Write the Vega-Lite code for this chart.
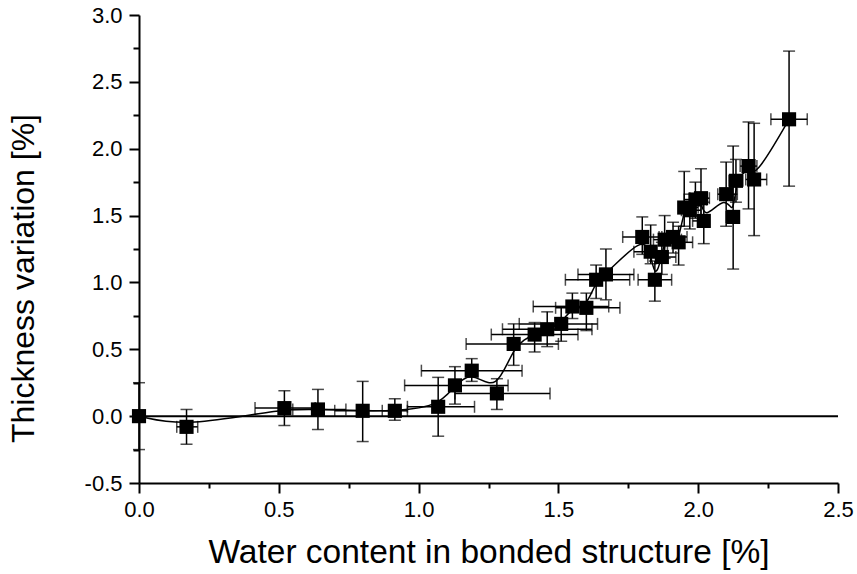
{
  "$schema": "https://vega.github.io/schema/vega-lite/v6.json",
  "width": 699,
  "height": 468,
  "autosize": {"type": "none"},
  "padding": {"left": 139, "top": 15, "right": 19, "bottom": 91},
  "background": "white",
  "config": {
    "view": {"stroke": null},
    "axis": {"grid": false, "domainColor": "black", "domainWidth": 2, "tickColor": "black", "tickWidth": 2, "labelColor": "black", "titleColor": "black", "labelFlush": false, "labelOverlap": false}
  },
  "data": {"values": [
    {"x": 0, "y": 0, "ylo": -0.25, "yhi": 0.25, "xlo": null, "xhi": null},
    {"x": 0.17, "y": -0.08, "ylo": -0.21, "yhi": 0.05, "xlo": 0.135, "xhi": 0.21},
    {"x": 0.52, "y": 0.06, "ylo": -0.07, "yhi": 0.19, "xlo": 0.415, "xhi": 0.63},
    {"x": 0.64, "y": 0.05, "ylo": -0.10, "yhi": 0.20, "xlo": 0.55, "xhi": 0.74},
    {"x": 0.80, "y": 0.04, "ylo": -0.19, "yhi": 0.26, "xlo": 0.70, "xhi": 0.90},
    {"x": 0.915, "y": 0.04, "ylo": -0.03, "yhi": 0.13, "xlo": 0.87, "xhi": 0.96},
    {"x": 1.07, "y": 0.07, "ylo": -0.15, "yhi": 0.29, "xlo": 0.96, "xhi": 1.20},
    {"x": 1.13, "y": 0.23, "ylo": 0.09, "yhi": 0.37, "xlo": 0.95, "xhi": 1.32},
    {"x": 1.19, "y": 0.34, "ylo": 0.26, "yhi": 0.43, "xlo": 1.01, "xhi": 1.37},
    {"x": 1.28, "y": 0.17, "ylo": 0.05, "yhi": 0.28, "xlo": 1.13, "xhi": 1.47},
    {"x": 1.34, "y": 0.54, "ylo": 0.38, "yhi": 0.69, "xlo": 1.17, "xhi": 1.50},
    {"x": 1.415, "y": 0.61, "ylo": 0.48, "yhi": 0.70, "xlo": 1.26, "xhi": 1.57},
    {"x": 1.46, "y": 0.65, "ylo": 0.52, "yhi": 0.78, "xlo": 1.30, "xhi": 1.62},
    {"x": 1.51, "y": 0.69, "ylo": 0.56, "yhi": 0.82, "xlo": 1.36, "xhi": 1.64},
    {"x": 1.55, "y": 0.82, "ylo": 0.73, "yhi": 0.92, "xlo": 1.41, "xhi": 1.68},
    {"x": 1.60, "y": 0.81, "ylo": 0.64, "yhi": 0.92, "xlo": 1.49, "xhi": 1.72},
    {"x": 1.635, "y": 1.02, "ylo": 0.88, "yhi": 1.13, "xlo": 1.525, "xhi": 1.755},
    {"x": 1.67, "y": 1.06, "ylo": 0.87, "yhi": 1.25, "xlo": 1.57, "xhi": 1.77},
    {"x": 1.80, "y": 1.34, "ylo": 1.21, "yhi": 1.49, "xlo": 1.73, "xhi": 1.87},
    {"x": 1.83, "y": 1.23, "ylo": 1.14, "yhi": 1.43, "xlo": 1.77, "xhi": 1.89},
    {"x": 1.845, "y": 1.02, "ylo": 0.86, "yhi": 1.16, "xlo": 1.785, "xhi": 1.905},
    {"x": 1.87, "y": 1.19, "ylo": 1.06, "yhi": 1.30, "xlo": 1.82, "xhi": 1.92},
    {"x": 1.88, "y": 1.32, "ylo": 1.18, "yhi": 1.50, "xlo": 1.84, "xhi": 1.94},
    {"x": 1.91, "y": 1.34, "ylo": 1.22, "yhi": 1.45, "xlo": 1.86, "xhi": 1.96},
    {"x": 1.93, "y": 1.30, "ylo": 1.13, "yhi": 1.42, "xlo": 1.88, "xhi": 1.98},
    {"x": 1.95, "y": 1.56, "ylo": 1.42, "yhi": 1.83, "xlo": 1.93, "xhi": 2.00},
    {"x": 1.97, "y": 1.54, "ylo": 1.40, "yhi": 1.66, "xlo": 1.94, "xhi": 2.01},
    {"x": 1.99, "y": 1.62, "ylo": 1.48, "yhi": 1.75, "xlo": 1.95, "xhi": 2.03},
    {"x": 2.01, "y": 1.63, "ylo": 1.50, "yhi": 1.85, "xlo": 1.97, "xhi": 2.04},
    {"x": 2.02, "y": 1.46, "ylo": 1.29, "yhi": 1.60, "xlo": 1.98, "xhi": 2.04},
    {"x": 2.10, "y": 1.66, "ylo": 1.42, "yhi": 1.90, "xlo": 2.07, "xhi": 2.14},
    {"x": 2.125, "y": 1.49, "ylo": 1.10, "yhi": 2.02, "xlo": 2.10, "xhi": 2.145},
    {"x": 2.135, "y": 1.76, "ylo": 1.60, "yhi": 1.92, "xlo": 2.11, "xhi": 2.16},
    {"x": 2.18, "y": 1.87, "ylo": 1.55, "yhi": 2.20, "xlo": 2.15, "xhi": 2.21},
    {"x": 2.20, "y": 1.77, "ylo": 1.35, "yhi": 2.19, "xlo": 2.17, "xhi": 2.245},
    {"x": 2.325, "y": 2.22, "ylo": 1.72, "yhi": 2.73, "xlo": 2.26, "xhi": 2.39}
  ]},
  "resolve": {"axis": {"x": "independent", "y": "independent"}},
  "layer": [
    {
      "data": {"values": [{"z": 0}]},
      "mark": {"type": "rule", "color": "black", "strokeWidth": 2},
      "encoding": {
        "y": {"field": "z", "type": "quantitative", "scale": {"domain": [-0.5, 3.0], "nice": false}, "axis": null}
      }
    },
    {
      "mark": {"type": "line", "interpolate": "basis", "color": "black", "strokeWidth": 1.5},
      "encoding": {
        "x": {"field": "x", "type": "quantitative", "scale": {"domain": [0, 2.5], "nice": false},
              "axis": {"orient": "bottom", "values": [0.25, 0.75, 1.25, 1.75, 2.25], "labels": false, "tickSize": 5, "title": null, "domain": false}},
        "y": {"field": "y", "type": "quantitative", "scale": {"domain": [-0.5, 3.0], "nice": false},
              "axis": {"orient": "left", "values": [-0.25, 0.25, 0.75, 1.25, 1.75, 2.25, 2.75], "labels": false, "tickSize": 6, "title": null, "domain": false}}
      }
    },
    {
      "mark": {"type": "errorbar", "ticks": {"size": 12, "color": "black", "thickness": 1.5}, "rule": {"color": "black", "strokeWidth": 1.5}},
      "encoding": {
        "x": {"field": "x", "type": "quantitative", "axis": null},
        "y": {"field": "ylo", "type": "quantitative", "axis": null},
        "y2": {"field": "yhi"}
      }
    },
    {
      "transform": [{"filter": "datum.xlo != null"}],
      "mark": {"type": "errorbar", "ticks": {"size": 12, "color": "black", "thickness": 1.5}, "rule": {"color": "black", "strokeWidth": 1.5}},
      "encoding": {
        "y": {"field": "y", "type": "quantitative", "axis": null},
        "x": {"field": "xlo", "type": "quantitative", "axis": null},
        "x2": {"field": "xhi"}
      }
    },
    {
      "mark": {"type": "point", "shape": "square", "filled": true, "color": "black", "opacity": 1, "size": 200},
      "encoding": {
        "x": {"field": "x", "type": "quantitative",
              "axis": {"orient": "bottom", "values": [0, 0.5, 1.0, 1.5, 2.0, 2.5], "format": ".1f", "tickSize": 10,
                       "labelFont": "Liberation Sans", "labelFontSize": 22, "labelPadding": 6,
                       "title": "Water content in bonded structure [%]", "titleFont": "Liberation Sans", "titleFontSize": 33.5, "titleFontWeight": "normal", "titlePadding": 16}},
        "y": {"field": "y", "type": "quantitative",
              "axis": {"orient": "left", "values": [-0.5, 0, 0.5, 1.0, 1.5, 2.0, 2.5, 3.0], "tickSize": 10,
                       "labelExpr": "datum.value < 0 ? '-' + format(-datum.value, '.1f') : format(datum.value, '.1f')",
                       "labelFont": "Liberation Sans", "labelFontSize": 22, "labelPadding": 7,
                       "title": "Thickness variation [%]", "titleFont": "Liberation Sans", "titleFontSize": 32, "titleFontWeight": "normal", "titleX": -99, "titleY": 263}}
      }
    }
  ]
}
